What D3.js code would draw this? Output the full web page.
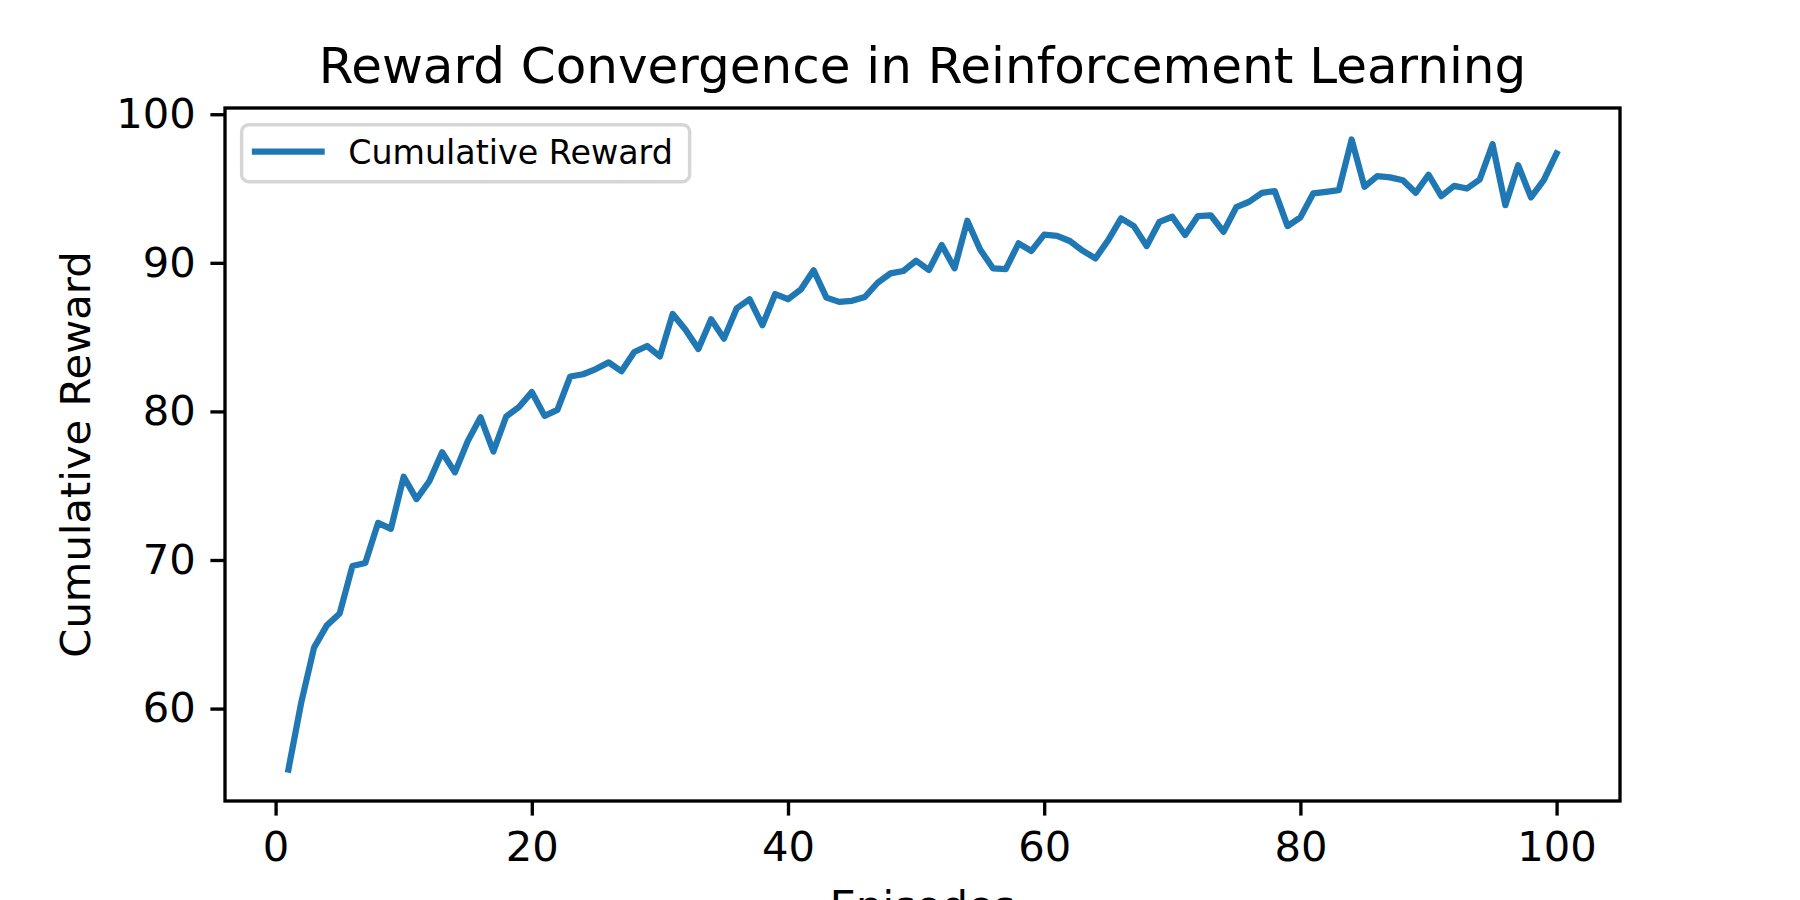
<!DOCTYPE html>
<html lang="en">
  <head>
    <meta charset="utf-8">
    <title>Reward Convergence in Reinforcement Learning</title>
    <script type="text/javascript" src="https://cdn.jsdelivr.net/npm/d3@7"></script>
    <style type="text/css">

html, body {
  margin: 0;
  padding: 0;
  background: #fff;
}

svg {
  display: block;
  font-family: "DejaVu Sans", sans-serif;
}

.tick line {
  stroke: #000;
  stroke-width: 3.33px;
}

.tick text {
  font-family: "DejaVu Sans", sans-serif;
  font-size: 41.7px;
  fill: #000;
}

    </style>
  </head>
  <body>
    <div id="chart"></div>
    <script type="text/javascript">

// data
var episodes = [
   1,  2,  3,  4,  5,  6,  7,  8,  9, 10, 11, 12, 13, 14, 15, 16, 17, 18, 19, 20,
  21, 22, 23, 24, 25, 26, 27, 28, 29, 30, 31, 32, 33, 34, 35, 36, 37, 38, 39, 40,
  41, 42, 43, 44, 45, 46, 47, 48, 49, 50, 51, 52, 53, 54, 55, 56, 57, 58, 59, 60,
  61, 62, 63, 64, 65, 66, 67, 68, 69, 70, 71, 72, 73, 74, 75, 76, 77, 78, 79, 80,
  81, 82, 83, 84, 85, 86, 87, 88, 89, 90, 91, 92, 93, 94, 95, 96, 97, 98, 99, 100
];

var rewards = [
  55.9, 60.4, 64.1, 65.6, 66.4, 69.6, 69.8, 72.5, 72.1, 75.6,
  74.1, 75.3, 77.25, 75.9, 78.0, 79.6, 77.3, 79.66, 80.3, 81.3,
  79.7, 80.1, 82.35, 82.5, 82.85, 83.3, 82.7, 84.0, 84.4, 83.7,
  86.56, 85.5, 84.2, 86.2, 84.9, 86.94, 87.55, 85.8, 87.9, 87.55,
  88.2, 89.5, 87.66, 87.37, 87.44, 87.7, 88.66, 89.29, 89.45, 90.14,
  89.52, 91.2, 89.63, 92.83, 90.9, 89.63, 89.58, 91.31, 90.8, 91.9,
  91.82, 91.47, 90.82, 90.3, 91.53, 92.99, 92.47, 91.13, 92.76, 93.1,
  91.87, 93.15, 93.2, 92.09, 93.75, 94.11, 94.71, 94.83, 92.47, 93.06,
  94.67, 94.78, 94.89, 98.3, 95.12, 95.83, 95.75, 95.56, 94.71, 95.93,
  94.49, 95.18, 95.0, 95.61, 97.98, 93.88, 96.57, 94.4, 95.56, 97.36
];

var xTicks = [0, 20, 40, 60, 80, 100];
var yTicks = [60, 70, 80, 90, 100];

var seriesName = "Cumulative Reward";
var title = "Reward Convergence in Reinforcement Learning";
var xLabel = "Episodes";
var yLabel = "Cumulative Reward";

// figure + axes box (matplotlib default subplot params)
var width = 1800, height = 900;
var mLeft = 225, mRight = 1620, mTop = 108, mBottom = 801;

var svg = d3.select("#chart").append("svg")
    .attr("width", width)
    .attr("height", height);

// 5% margins like matplotlib autoscale
function pad(ext) {
  var d = (ext[1] - ext[0]) * 0.05;
  return [ext[0] - d, ext[1] + d];
}

var x = d3.scaleLinear()
    .domain(pad(d3.extent(episodes)))
    .range([mLeft, mRight]);

var y = d3.scaleLinear()
    .domain(pad(d3.extent(rewards)))
    .range([mBottom, mTop]);

// Achsen
var xAxis = svg.append("g")
    .attr("transform", "translate(0," + mBottom + ")")
    .call(d3.axisBottom(x).tickValues(xTicks).tickFormat(d3.format("d"))
      .tickSize(14.6).tickPadding(15.5));
xAxis.select(".domain").remove();

var yAxis = svg.append("g")
    .attr("transform", "translate(" + mLeft + ",0)")
    .call(d3.axisLeft(y).tickValues(yTicks).tickFormat(d3.format("d"))
      .tickSize(14.6).tickPadding(14.6));
yAxis.select(".domain").remove();

xAxis.attr("font-family", null).attr("font-size", null);
yAxis.attr("font-family", null).attr("font-size", null);

// clip for the line
svg.append("clipPath")
    .attr("id", "clip")
  .append("rect")
    .attr("x", mLeft)
    .attr("y", mTop)
    .attr("width", mRight - mLeft)
    .attr("height", mBottom - mTop);

var line = d3.line()
    .x(function(d, i) { return x(episodes[i]); })
    .y(function(d) { return y(d); });

svg.append("path")
    .datum(rewards)
    .attr("clip-path", "url(#clip)")
    .attr("d", line)
    .attr("fill", "none")
    .attr("stroke", "#1f77b4")
    .attr("stroke-width", 6.25)
    .attr("stroke-linejoin", "round")
    .attr("stroke-linecap", "square");

// frame
svg.append("rect")
    .attr("x", mLeft)
    .attr("y", mTop)
    .attr("width", mRight - mLeft)
    .attr("height", mBottom - mTop)
    .attr("fill", "none")
    .attr("stroke", "#000")
    .attr("stroke-width", 3.33);

// title and labels
svg.append("text")
    .attr("x", (mLeft + mRight) / 2)
    .attr("y", 83)
    .attr("text-anchor", "middle")
    .style("font-size", "50px")
    .text(title);

svg.append("text")
    .attr("x", (mLeft + mRight) / 2)
    .attr("y", 920)
    .attr("text-anchor", "middle")
    .style("font-size", "41.7px")
    .text(xLabel);

svg.append("text")
    .attr("transform", "translate(90," + ((mTop + mBottom) / 2) + ") rotate(-90)")
    .attr("text-anchor", "middle")
    .style("font-size", "41.7px")
    .text(yLabel);

// legend upper left
var fs = 33.3;
var lg = svg.append("g")
    .attr("transform", "translate(" + (mLeft + fs / 2) + "," + (mTop + fs / 2) + ")");

lg.append("rect")
    .attr("width", 448)
    .attr("height", 57)
    .attr("rx", 7)
    .attr("ry", 7)
    .attr("fill", "#fff")
    .attr("fill-opacity", 0.8)
    .attr("stroke", "#d6d6d6")
    .attr("stroke-width", 3.5);

lg.append("line")
    .attr("x1", 0.4 * fs)
    .attr("x2", 2.4 * fs)
    .attr("y1", 27)
    .attr("y2", 27)
    .attr("stroke", "#1f77b4")
    .attr("stroke-width", 6.25)
    .attr("stroke-linecap", "square");

lg.append("text")
    .attr("x", 3.2 * fs)
    .attr("y", 27)
    .attr("dy", "0.36em")
    .style("font-size", fs + "px")
    .text(seriesName);

    </script>
  </body>
</html>
